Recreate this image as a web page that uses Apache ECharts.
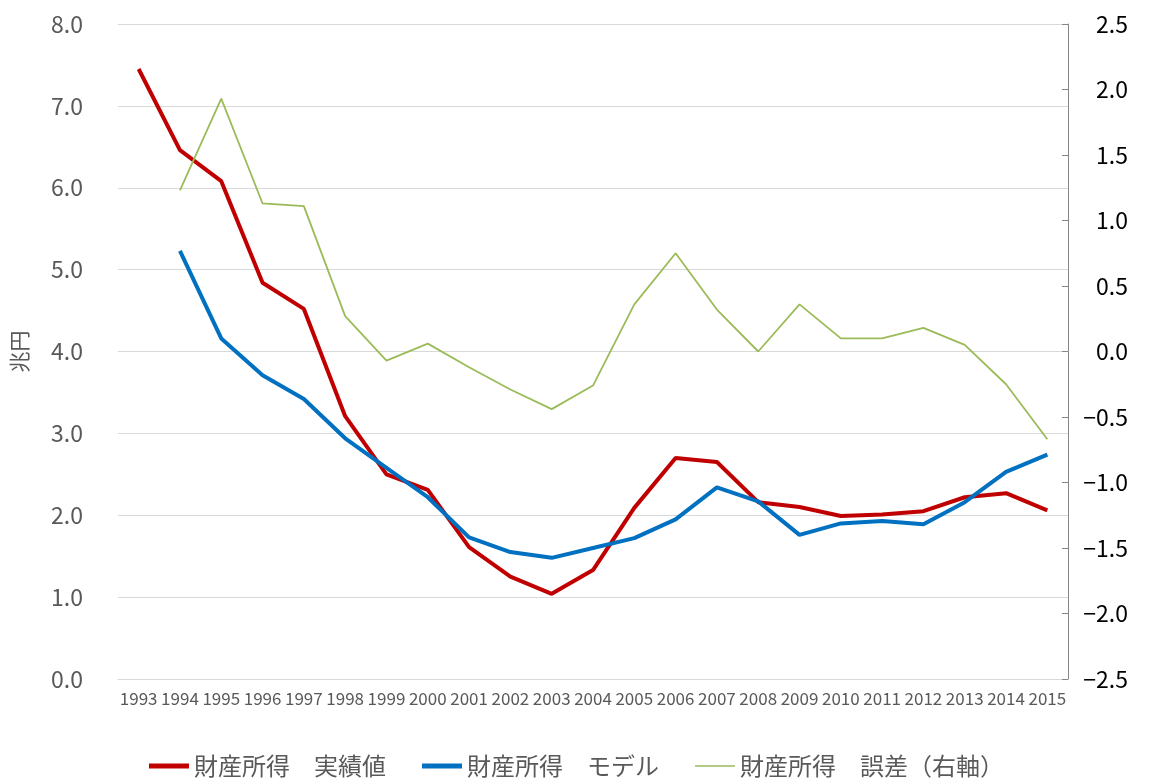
<!DOCTYPE html>
<html><head><meta charset="utf-8">
<script src="https://cdn.jsdelivr.net/npm/echarts@6/dist/echarts.min.js"></script>
<style>html,body{margin:0;padding:0;background:#fff}#c{width:1153px;height:778px}</style>
</head><body><div id="c"></div>
<script>
const years = ['1993','1994','1995','1996','1997','1998','1999','2000','2001','2002','2003','2004','2005','2006','2007','2008','2009','2010','2011','2012','2013','2014','2015'];
const actual = [7.45,6.46,6.08,4.84,4.52,3.21,2.50,2.31,1.61,1.25,1.04,1.33,2.09,2.70,2.65,2.16,2.10,1.99,2.01,2.05,2.22,2.27,2.06];
const model = [null,5.23,4.16,3.71,3.42,2.94,2.58,2.22,1.73,1.55,1.48,1.60,1.72,1.95,2.34,2.17,1.76,1.90,1.93,1.89,2.16,2.53,2.74];
const errorR = [null,1.23,1.93,1.13,1.11,0.27,-0.07,0.06,-0.12,-0.29,-0.44,-0.26,0.36,0.75,0.32,0.00,0.36,0.10,0.10,0.18,0.05,-0.25,-0.67];
const names = ['財産所得　実績値','財産所得　モデル','財産所得　誤差（右軸）'];
const FONT = '"Noto Sans CJK JP", "Noto Sans", sans-serif';
const chart = echarts.init(document.getElementById('c'), null, {renderer:'canvas'});
chart.setOption({
  animation:false,
  textStyle:{fontFamily:FONT},
  grid:{left:118,right:85,top:24,bottom:99,containLabel:false},
  legend:{top:749,left:'center',itemGap:36,itemWidth:40,itemHeight:5,
    textStyle:{fontSize:24,color:'#595959',fontFamily:FONT},
    data:[
      {name:names[0],icon:'rect'},
      {name:names[1],icon:'rect'},
      {name:names[2],icon:'path://M0,0H40V0.05H0Z M0,1.75H40V3.25H0Z M0,4.95H40V5H0Z'}
    ]},
  xAxis:{type:'category',data:years,boundaryGap:true,
    axisLine:{lineStyle:{color:'#d9d9d9',width:1}},axisTick:{show:false},
    axisLabel:{interval:0,fontSize:17,color:'#595959',margin:11,fontFamily:FONT}},
  yAxis:[
    {type:'value',min:0,max:8,interval:1,name:'兆円',nameLocation:'middle',nameRotate:90,nameGap:88,
     nameTextStyle:{fontSize:21,color:'#595959'},
     axisLine:{show:false},axisTick:{show:false},
     splitLine:{lineStyle:{color:'#d9d9d9',width:1}},
     axisLabel:{fontSize:23,color:'#595959',margin:35,formatter:v=>v.toFixed(1)}},
    {type:'value',min:-2.5,max:2.5,interval:0.5,position:'right',
     axisLine:{show:true,lineStyle:{color:'#868686'}},axisTick:{show:true,inside:true,length:6,lineStyle:{color:'#868686'}},
     splitLine:{show:false},
     axisLabel:{fontSize:23,color:'#000',margin:60,align:'right',formatter:v=>v<0?'\u2212'+Math.abs(v).toFixed(1):v.toFixed(1)}}
  ],
  series:[
    {name:names[0],type:'line',data:actual,yAxisIndex:0,symbol:'none',lineStyle:{color:'#C00000',width:4},itemStyle:{color:'#C00000'}},
    {name:names[1],type:'line',data:model,yAxisIndex:0,symbol:'none',lineStyle:{color:'#0070C0',width:4},itemStyle:{color:'#0070C0'}},
    {name:names[2],type:'line',data:errorR,yAxisIndex:1,symbol:'none',lineStyle:{color:'#9BBB59',width:1.8},itemStyle:{color:'#9BBB59'}}
  ]
});
</script></body></html>
